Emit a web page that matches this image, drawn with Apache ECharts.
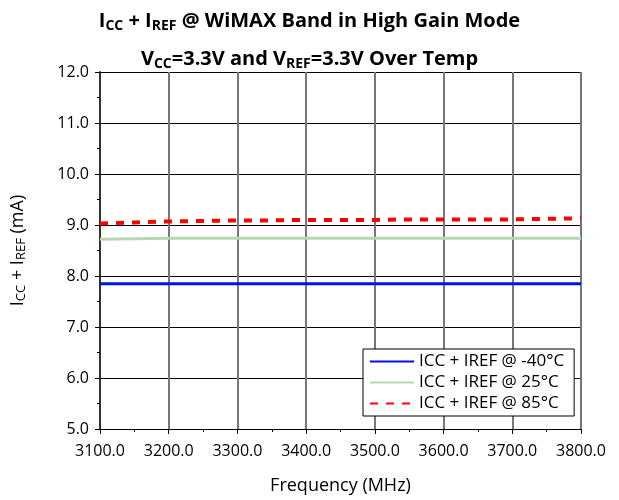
<!DOCTYPE html>
<html><head><meta charset="utf-8">
<script src="https://cdn.jsdelivr.net/npm/echarts@6/dist/echarts.min.js"></script>
<style>html,body{margin:0;padding:0;background:#fff}#c{width:619px;height:500px}</style>
</head><body><div id="c"></div>
<script>
const freqs = [3100,3150,3200,3250,3300,3350,3400,3450,3500,3550,3600,3650,3700,3750,3800];
const iccM40 = [7.85,7.85,7.85,7.85,7.85,7.85,7.85,7.85,7.85,7.85,7.85,7.85,7.85,7.85,7.85];
const icc25  = [8.72,8.73,8.74,8.74,8.74,8.74,8.74,8.74,8.74,8.74,8.74,8.74,8.74,8.74,8.74];
const icc85  = [9.03,9.05,9.07,9.08,9.09,9.09,9.10,9.10,9.10,9.11,9.11,9.11,9.11,9.12,9.13];
const seriesNames = ['ICC + IREF @ -40°C','ICC + IREF @ 25°C','ICC + IREF @ 85°C'];
const yTicks = [5,12,1];
const FONT = '"Open Sans", "Noto Sans", sans-serif';

const chart = echarts.init(document.getElementById('c'));
const pair = (arr) => freqs.map((f,i)=>[f,arr[i]]);
const titleRich = {m:{fontSize:20,fontWeight:'bold',fontFamily:FONT,color:'#000'},
  s:{fontSize:14,fontWeight:'bold',fontFamily:FONT,color:'#000',verticalAlign:'bottom',padding:[9,0,0,0]}};
chart.setOption({
  animation:false,
  title:[{
    text:'{m|I}{s|CC}{m| + I}{s|REF}{m| @ WiMAX Band in High Gain Mode}',
    left:'center', top:5, textStyle:{rich:titleRich}
  },{
    text:'{m|V}{s|CC}{m|=3.3V and V}{s|REF}{m|=3.3V Over Temp}',
    left:'center', top:43, textStyle:{rich:titleRich}
  }],
  grid:{left:100,right:38,top:72,bottom:70},
  legend:{
    orient:'vertical', left:363, top:349, width:220,
    backgroundColor:'#fff', borderColor:'#000', borderWidth:1,
    padding:[4,10,4,6], itemGap:4, itemWidth:44, itemHeight:18,
    itemStyle:{opacity:0},
    textStyle:{fontSize:17,fontFamily:FONT,color:'#000'},
    data:seriesNames
  },
  xAxis:{
    type:'value', min:freqs[0], max:freqs[freqs.length-1], interval:100,
    name:'Frequency (MHz)', nameLocation:'middle', nameGap:48,
    nameTextStyle:{fontSize:18,fontFamily:FONT,color:'#000'},
    axisLine:{lineStyle:{color:'#000',width:1}},
    axisTick:{show:true,length:5,lineStyle:{color:'#000'}},
    minorTick:{show:true,splitNumber:2,length:3,lineStyle:{color:'#000'}},
    axisLabel:{fontSize:16,fontFamily:FONT,color:'#000',margin:14,formatter:v=>v.toFixed(1)},
    splitLine:{show:true,lineStyle:{color:'#777',width:2}}
  },
  yAxis:{
    type:'value', min:yTicks[0], max:yTicks[1], interval:yTicks[2],
    name:'{m|I}{s|CC}{m| + I}{s|REF}{m| (mA)}', nameLocation:'middle', nameGap:72, nameRotate:90,
    nameTextStyle:{rich:{m:{fontSize:18,fontFamily:FONT,color:'#000'},
      s:{fontSize:13,fontFamily:FONT,color:'#000',verticalAlign:'bottom',padding:[8,0,0,0]}}},
    axisLine:{show:true,lineStyle:{color:'#333',width:2}},
    axisTick:{show:true,length:5,lineStyle:{color:'#000'}},
    minorTick:{show:true,splitNumber:2,length:3,lineStyle:{color:'#000'}},
    axisLabel:{fontSize:16,fontFamily:FONT,color:'#000',margin:11,formatter:v=>v.toFixed(1)},
    splitLine:{show:true,lineStyle:{color:'#000',width:1}}
  },
  series:[
    {name:seriesNames[0],type:'line',data:pair(iccM40),showSymbol:false,symbol:'none',
      lineStyle:{color:'#0010ee',width:3},itemStyle:{color:'#0010ee'}},
    {name:seriesNames[1],type:'line',data:pair(icc25),showSymbol:false,symbol:'none',
      lineStyle:{color:'#b5d8b0',width:3},itemStyle:{color:'#b5d8b0'}},
    {name:seriesNames[2],type:'line',data:pair(icc85),showSymbol:false,symbol:'none',
      lineStyle:{color:'#ff0000',width:4,type:[8,8]},itemStyle:{color:'#ff0000'}}
  ]
});
</script></body></html>
